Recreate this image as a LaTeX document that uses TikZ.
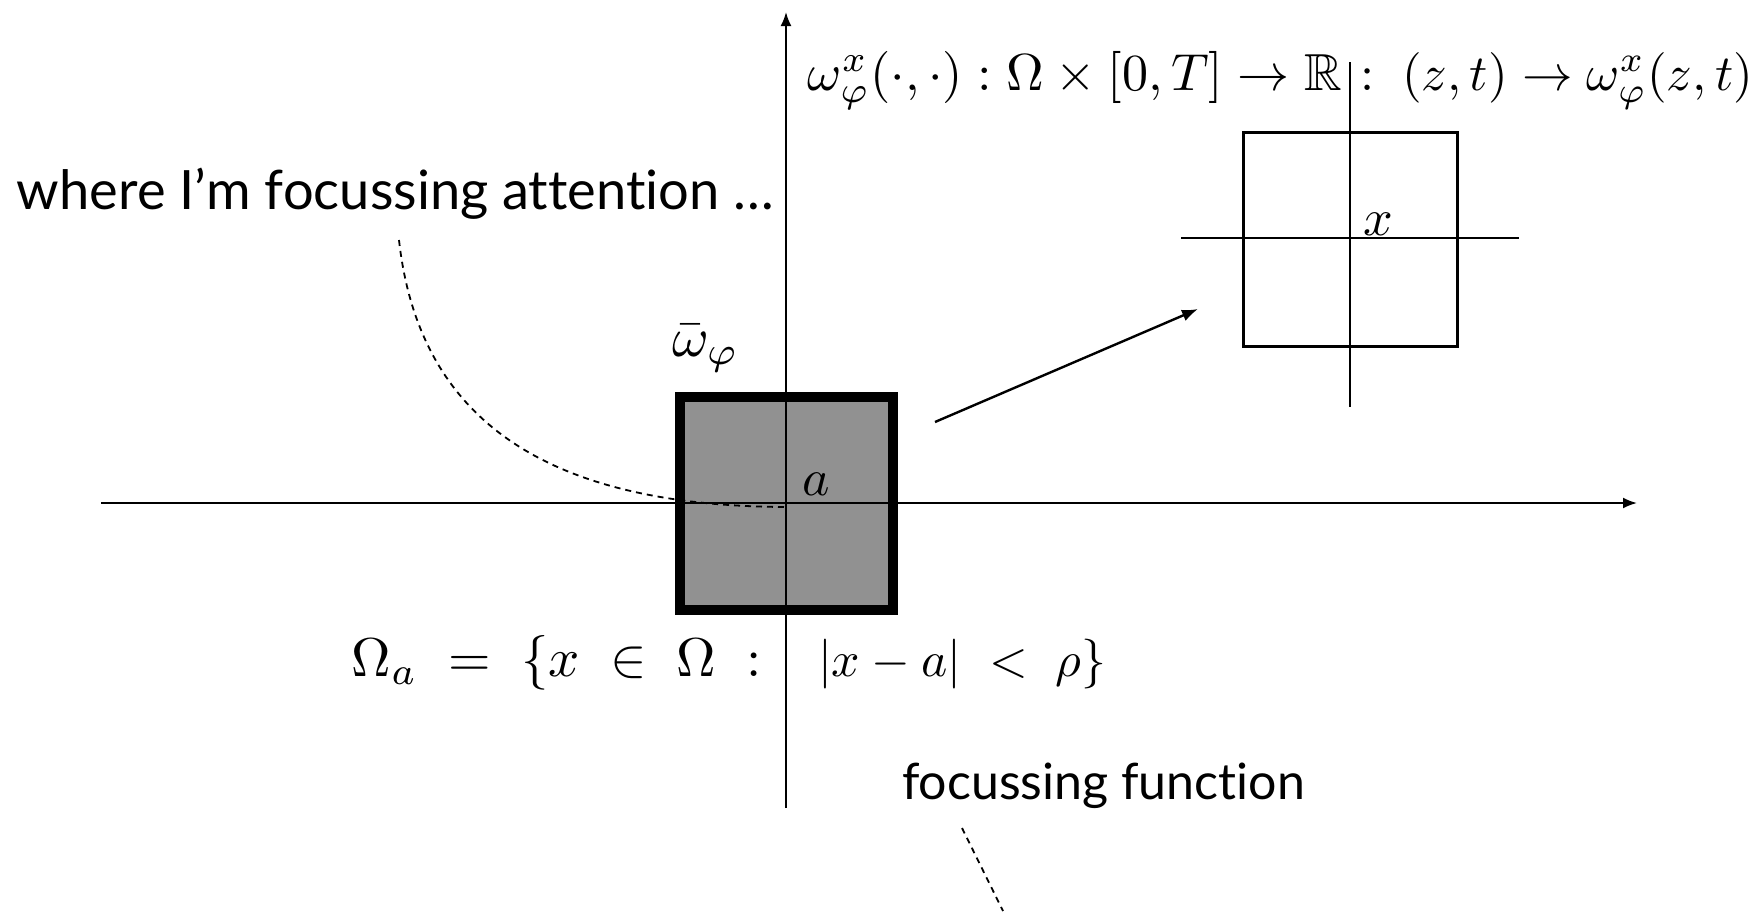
\documentclass[tikz,border=0pt]{standalone}
\usepackage{fontspec}
\usepackage{amssymb}
\usepackage{graphicx}
\usetikzlibrary{arrows.meta}
\newfontfamily\gill[Ligatures=NoCommon]{Lato}
\definecolor{boxgray}{RGB}{145,145,145}
\tikzset{
  axisline/.style={line width=1pt,-{Latex[length=7pt,width=5.5pt]}},
  bigsq/.style={draw=black,fill=boxgray,line width=5pt,minimum size=106.5pt,inner sep=0pt,outer sep=0pt},
  smallsq/.style={draw=black,line width=1.5pt,minimum size=107pt,inner sep=0pt,outer sep=0pt},
  thinline/.style={line width=1.2pt},
  zoomarrow/.style={line width=1.2pt,-{Latex[length=8pt,width=6pt]}},
  dashline/.style={line width=0.9pt,dash pattern=on 3pt off 2.5pt},
  lbl/.style={inner sep=0pt,outer sep=0pt}
}
\begin{document}
\begin{tikzpicture}[x=0.5pt,y=-0.5pt]
\useasboundingbox (0,0) rectangle (1764,911);
% big gray square
\node[bigsq] (omega) at (786.5,503.5) {};
% main axes
\coordinate (hL) at (101,503);
\coordinate (hR) at (1637,503);
\coordinate (vB) at (786,808);
\coordinate (vT) at (786,12);
\draw[axisline] (hL) -- (hR);
\draw[axisline] (vB) -- (vT);
% small square with its axes
\node[smallsq] (zsq) at (1350,239) {};
\coordinate (shL) at (1181,238);
\coordinate (shR) at (1519,238);
\coordinate (svT) at (1350,62);
\coordinate (svB) at (1350,407);
\draw[thinline] (shL) -- (shR);
\draw[thinline] (svT) -- (svB);
% zoom arrow
\coordinate (arrS) at (935,422);
\coordinate (arrE) at (1198,309);
\draw[zoomarrow] (arrS) -- (arrE);
% labels
\node[lbl,anchor=base west] (wlab) at (17,209) {\resizebox{378.5pt}{!}{\gill where I’m focussing attention …}};
\node[lbl,anchor=base west] (flab) at (902,799) {\resizebox{201.5pt}{!}{\gill focussing function}};
\node[lbl,anchor=base west] (wbar) at (672,356) {\scalebox{2.8}{$\bar\omega_\varphi$}};
\node[lbl,anchor=base west] (alab) at (802,495) {\scalebox{2.6}{$a$}};
\node[lbl,anchor=base west] (xlab) at (1363,235) {\scalebox{2.6}{$x$}};
\node[lbl,anchor=base east] (fl) at (1342,90) {\resizebox{267pt}{!}{$\omega^x_\varphi(\cdot,\cdot):\Omega\times[0,T]\to\mathbb{R}$}};
\node[lbl,anchor=base west] (fr) at (1360,90) {\resizebox{196.5pt}{!}{$:\;(z,t)\to\omega^x_\varphi(z,t)$}};
\node[lbl,anchor=base east] (ol) at (762,676) {\resizebox{205pt}{!}{$\Omega_a\;=\;\{x\;\in\;\Omega\;:$}};
\node[lbl,anchor=base west] (or) at (818,676) {\resizebox{144pt}{!}{$|x-a|\;<\;\rho\}$}};
% dashed connectors
\coordinate (attn) at (399,240);
\coordinate (acen) at (786,507);
\draw[dashline] (attn) .. controls (420,430) and (560,506) .. (acen);
\coordinate (ffs) at (962,828);
\coordinate (ffe) at (1003,911);
\draw[dashline] (ffs) -- (ffe);
\end{tikzpicture}
\end{document}
